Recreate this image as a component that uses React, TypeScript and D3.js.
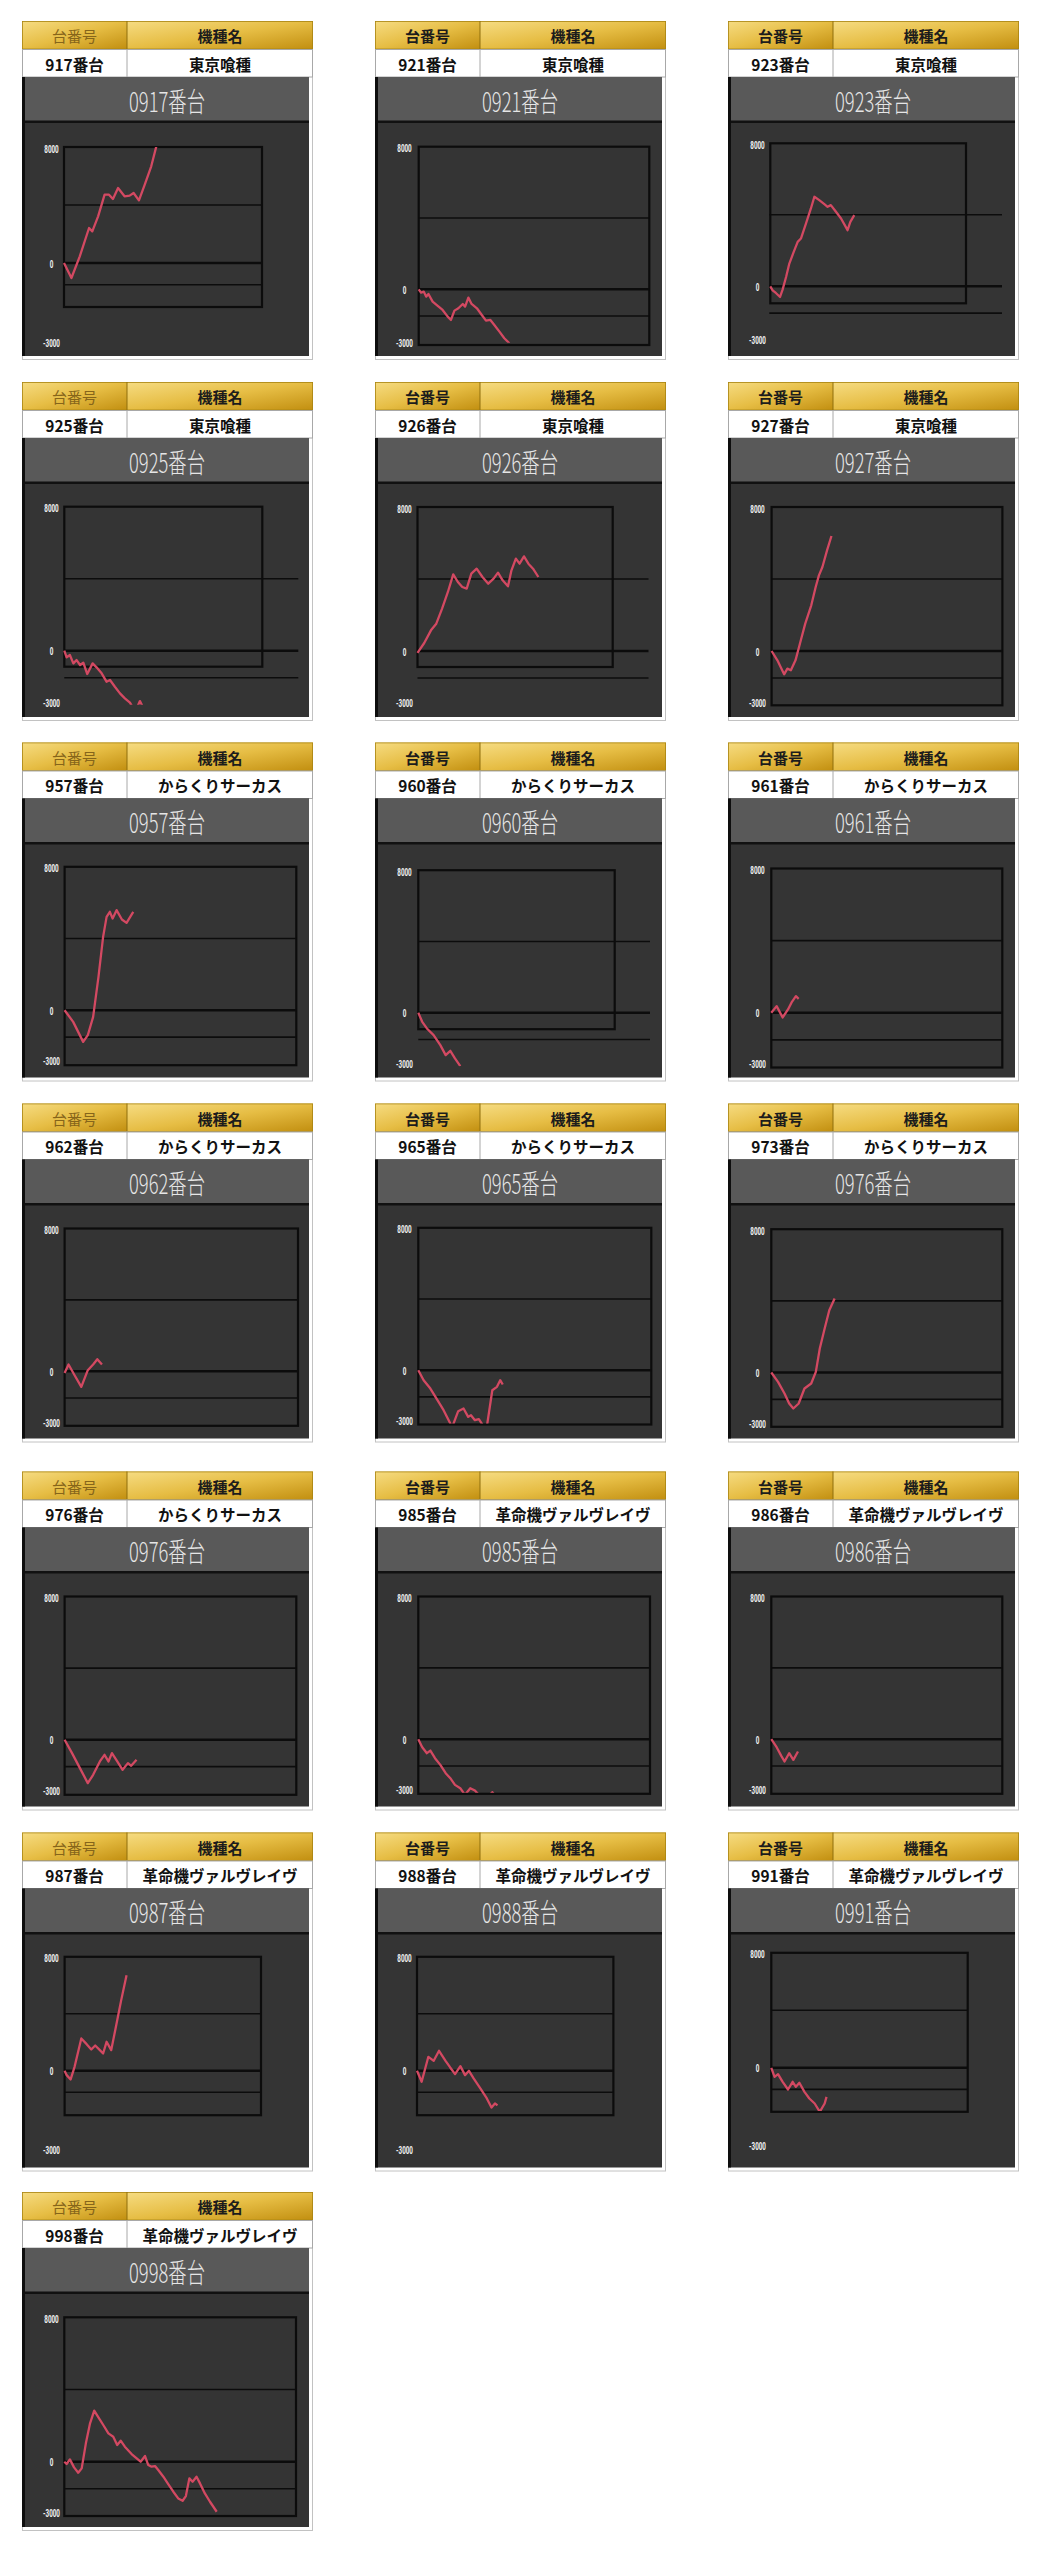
import React from 'react';
import * as d3 from 'd3';

// ---------- data ----------
const machineNos = ['917', '921', '923', '925', '926', '927', '957', '960', '961', '962', '965', '973', '976', '985', '986', '987', '988', '991', '998'];
const modelNames = [
  '東京喰種', '東京喰種', '東京喰種', '東京喰種', '東京喰種', '東京喰種',
  'からくりサーカス', 'からくりサーカス', 'からくりサーカス', 'からくりサーカス', 'からくりサーカス', 'からくりサーカス', 'からくりサーカス',
  '革命機ヴァルヴレイヴ', '革命機ヴァルヴレイヴ', '革命機ヴァルヴレイヴ', '革命機ヴァルヴレイヴ', '革命機ヴァルヴレイヴ', '革命機ヴァルヴレイヴ',
];
const chartTitles = ['0917番台', '0921番台', '0923番台', '0925番台', '0926番台', '0927番台', '0957番台', '0960番台', '0961番台', '0962番台', '0965番台', '0976番台', '0976番台', '0985番台', '0986番台', '0987番台', '0988番台', '0991番台', '0998番台'];
const headerLabels = ['台番号', '機種名'];
const tickLabels = ['8000', '0', '-3000'];
const tickValues = [8000, 0, -3000];
const gridValues = [4000, 0, -1500];

// series: [progress %, difference]
const s917 = [[0, 0], [3.2, -1034], [6.8, 460], [10.8, 2414], [12.2, 2184], [14.7, 3218], [17.5, 4713], [19.4, 4713], [21.1, 4414], [23.3, 5172], [26.1, 4598], [28.3, 4644], [30.0, 4828], [32.3, 4322], [34.8, 5402], [37.6, 6667], [39.8, 8046]];
const s921 = [[0, 0], [1.0, -187], [2.2, -131], [3.2, -411], [4.2, -262], [6.0, -692], [8.2, -935], [10.3, -1159], [12.5, -1533], [13.9, -1720], [15.4, -1196], [17.1, -1065], [19.0, -822], [20.0, -972], [21.4, -467], [22.8, -822], [25.1, -1065], [27.2, -1439], [29.0, -1757], [30.9, -1720], [32.6, -2000], [34.8, -2374], [36.9, -2748], [39.1, -3028]];
const s923 = [[0, 0], [1.0, -224], [2.4, -374], [4.2, -598], [5.3, -187], [6.8, 523], [8.2, 1271], [10.1, 1925], [11.8, 2486], [13.2, 2673], [15.4, 3514], [17.5, 4355], [19.0, 5009], [21.1, 4822], [23.3, 4598], [24.7, 4449], [26.1, 4542], [28.3, 4168], [30.5, 3794], [33.3, 3140], [34.5, 3607], [36.2, 3981]];
const s925 = [[0, 0], [1.0, -370], [2.4, -241], [3.9, -704], [5.3, -519], [6.8, -796], [8.2, -667], [9.9, -1296], [12.2, -704], [13.9, -926], [16.1, -1259], [18.2, -1722], [19.7, -1630], [21.8, -2000], [24.0, -2370], [26.1, -2648], [28.3, -2889], [29.7, -3200], [31.5, -3110], [32.6, -2800], [33.8, -3110]];
const s926 = [[0, -100], [2.9, 444], [5.8, 1148], [8.1, 1519], [10.6, 2352], [13.1, 3278], [15.4, 4259], [17.4, 3833], [19.3, 3556], [21.2, 3463], [23.2, 4296], [25.5, 4574], [28.0, 4111], [30.5, 3741], [32.8, 4019], [34.7, 4352], [36.7, 3926], [39.0, 3593], [40.5, 4481], [42.4, 5130], [44.0, 4852], [45.9, 5259], [47.8, 4852], [49.8, 4574], [52.1, 4111]];
const s927 = [[0, 0], [2.5, -519], [5.4, -1296], [6.8, -981], [8.3, -1074], [10.3, -519], [12.2, 407], [14.5, 1519], [17.1, 2537], [19.0, 3556], [20.4, 4204], [21.9, 4667], [23.9, 5593], [25.8, 6389]];
const s957 = [[0, 0], [3.7, -651], [8.0, -1767], [10.0, -1395], [12.3, -372], [14.6, 1860], [16.6, 4093], [18.1, 5209], [19.5, 5488], [20.7, 5116], [22.4, 5581], [24.7, 5060], [26.7, 4874], [29.6, 5488]];
const s960 = [[0, 0], [1.7, -505], [3.7, -879], [6.6, -1252], [9.5, -1813], [11.8, -2374], [13.8, -2131], [15.8, -2561], [18.1, -2991]];
const s961 = [[0, 0], [2.3, 370], [4.9, -259], [7.2, 185], [8.9, 610], [10.6, 924], [11.8, 776]];
const s962 = [[0, -100], [1.7, 374], [4.3, -224], [7.2, -879], [10.0, 56], [12.3, 374], [14.1, 673], [16.1, 374]];
const s965 = [[0, 0], [2.3, -562], [5.2, -1030], [8.0, -1629], [10.9, -2247], [13.8, -2996], [14.6, -3200], [17.2, -2303], [19.5, -2154], [21.5, -2622], [22.7, -2528], [24.4, -2809], [26.1, -2753], [27.8, -3090], [29.6, -3127], [31.9, -1124], [33.9, -936], [35.3, -562], [36.4, -805]];
const s973 = [[0, 0], [2.9, -521], [5.7, -1172], [7.7, -1730], [9.5, -2009], [11.8, -1730], [14.3, -893], [17.2, -614], [19.2, 37], [20.9, 1340], [23.0, 2456], [25.0, 3479], [27.3, 4130]];
const s976 = [[0, 0], [3.2, -744], [6.6, -1581], [10.0, -2419], [12.3, -1953], [15.2, -1209], [17.2, -837], [18.9, -1209], [20.4, -744], [22.7, -1209], [25.0, -1674], [27.3, -1302], [28.7, -1451], [31.0, -1116]];
const s985 = [[0, 0], [1.7, -449], [3.7, -785], [5.2, -636], [7.2, -1065], [9.5, -1439], [11.8, -1907], [13.8, -2187], [15.8, -2561], [18.1, -2748], [20.1, -3121], [22.4, -2748], [24.4, -2879], [26.1, -3121], [29.6, -3300], [31.9, -2972], [33.9, -3300]];
const s986 = [[0, 0], [2.3, -449], [4.3, -935], [5.7, -1252], [7.7, -785], [9.5, -1159], [11.5, -692]];
const s987 = [[0, 0], [0.9, -304], [2.6, -608], [4.3, 281], [7.2, 2269], [9.5, 1871], [11.5, 1497], [13.2, 1778], [15.2, 1450], [16.6, 1216], [18.1, 2035], [20.1, 1450], [22.4, 3322], [24.4, 4959], [26.7, 6713]];
const s988 = [[0, 0], [2.0, -772], [4.9, 982], [7.2, 702], [9.5, 1404], [12.3, 702], [14.3, 234], [16.4, -234], [18.7, 327], [20.7, -304], [22.4, 0], [24.4, -538], [27.3, -1240], [30.1, -1942], [32.1, -2573], [33.6, -2292], [34.7, -2433]];
const s991 = [[0, 0], [1.4, -626], [2.9, -441], [4.9, -974], [7.2, -1508], [9.2, -974], [10.6, -1323], [12.1, -1044], [14.3, -1671], [16.4, -2135], [18.7, -2483], [20.9, -3063], [23.0, -2483], [23.8, -2019]];
const s998 = [[0, 0], [1.0, -129], [2.4, 129], [4.2, -314], [6.0, -610], [7.5, -370], [9.3, 1017], [11.1, 2126], [12.9, 2828], [14.7, 2458], [16.8, 2033], [19.0, 1571], [21.1, 1386], [22.8, 924], [24.3, 1165], [26.1, 832], [29.0, 425], [31.2, 185], [32.9, 0], [34.8, 314], [36.2, -185], [37.6, -277], [39.1, -240], [40.5, -462], [42.7, -832], [44.8, -1238], [47.0, -1664], [49.1, -2033], [51.0, -2163], [52.4, -1904], [53.9, -924], [55.3, -1109], [57.0, -832], [58.5, -1201], [60.6, -1756], [62.8, -2218], [65.7, -2773]];

const seriesList = [s917, s921, s923, s925, s926, s927, s957, s960, s961, s962, s965, s973, s976, s985, s986, s987, s988, s991, s998];

// ---------- layout (pixel geometry of each screenshot panel) ----------
const layouts = [
  { y8: 126, y0: 242, f: [42, 240, 126, 286], g: [42, 240], lab: 322 },
  { y8: 125.7, y0: 268.3, f: [43.7, 274.3, 125.7, 324], g: [43.7, 274.3], lab: 322 },
  { y8: 122.3, y0: 265.3, f: [42.3, 238, 122.3, 282.3], g: [41.3, 274], lab: 319 },
  { y8: 124.7, y0: 268.7, f: [42.3, 240.3, 124.7, 284.7], g: [42.3, 276.3], lab: 321 },
  { y8: 125, y0: 269, f: [42.5, 237.7, 125, 285], g: [42.5, 273.5], lab: 321 },
  { y8: 125, y0: 269, f: [43.6, 274.4, 125, 323.3], g: [43.6, 274.4], lab: 321 },
  { y8: 124.3, y0: 267.7, f: [42.6, 274.3, 124.3, 322.7], g: [42.6, 274.3], lab: 319.3 },
  { y8: 127.7, y0: 270.3, f: [43.3, 239.7, 127.7, 286.7], g: [43.3, 275], lab: 322 },
  { y8: 126, y0: 270.3, f: [43.3, 274.3, 126, 325], g: [43.3, 274.3], lab: 322 },
  { y8: 125, y0: 267.7, f: [42.6, 276, 125, 322.3], g: [42.6, 276], lab: 320 },
  { y8: 124.3, y0: 266.7, f: [43.3, 276.3, 124.3, 321], g: [43.3, 276.3], lab: 318.3 },
  { y8: 125.7, y0: 269, f: [43.3, 274.3, 125.7, 323.3], g: [43.3, 274.3], lab: 321 },
  { y8: 125, y0: 268.3, f: [42.6, 274.3, 125, 323.3], g: [42.6, 274.3], lab: 320 },
  { y8: 125, y0: 267.7, f: [43.3, 275, 125, 322.3], g: [43.3, 275], lab: 319.3 },
  { y8: 125, y0: 267.7, f: [43.3, 274.3, 125, 322.3], g: [43.3, 274.3], lab: 319.3 },
  { y8: 124.3, y0: 238.3, f: [42.6, 239, 124.3, 282.7], g: [42.6, 239], lab: 317.7 },
  { y8: 124.3, y0: 238.3, f: [42, 238.4, 124.3, 282.7], g: [42, 238.4], lab: 317.7 },
  { y8: 120.3, y0: 235.3, f: [43.3, 239.7, 120.3, 279.3], g: [43.3, 239.7], lab: 314.3 },
  { y8: 125.3, y0: 269.7, f: [42.3, 274, 125.3, 324], g: [42.3, 274], lab: 321.3 },
];
const colX = [22, 375, 728];
const rowY = [21, 382, 742.5, 1103.5, 1471.5, 1832.5, 2192];
const PW = 291;
const DIV = 105;
const XSPAN = 232;

const JP = '"Noto Sans CJK JP", "Noto Sans", sans-serif';

function Panel({ i }: { i: number }) {
  const L = layouts[i];
  const px = colX[i % 3];
  const py = rowY[Math.floor(i / 3)];
  const y = d3.scaleLinear().domain([0, 8000]).range([L.y0, L.y8]);
  const x = d3.scaleLinear().domain([0, 100]).range([L.f[0], L.f[0] + XSPAN]);
  const line = d3.line<number[]>().x((d) => x(d[0])).y((d) => y(d[1]));
  const thinHead = i % 3 === 0;
  const labelYs = [L.y8 + 2, L.y0 + 1, L.lab];
  const clipId = `clip-${i}`;
  return (
    <g transform={`translate(${px},${py})`}>
      <defs>
        <clipPath id={clipId}>
          <rect x={L.f[0] - 2} y={y(8000)} width={XSPAN + 10} height={y(-3000) - y(8000)} />
        </clipPath>
      </defs>
      {/* outer border */}
      <rect x={0.5} y={28.5} width={PW - 1} height={310} fill="#fff" stroke="#c2c2c2" strokeWidth={1} />
      {/* header */}
      <rect x={0} y={0} width={DIV} height={28} fill="url(#goldGrad)" />
      <rect x={DIV} y={0} width={PW - DIV} height={28} fill="url(#goldGrad)" />
      <rect x={0.4} y={0.4} width={PW - 0.8} height={27.6} fill="none" stroke="#a88412" strokeWidth={0.8} />
      <line x1={DIV} x2={DIV} y1={0} y2={28} stroke="#8f6e0c" strokeWidth={1} />
      <text x={DIV / 2} y={14.5} textAnchor="middle" dominantBaseline="central" fontFamily={JP} fontSize={15}
        fontWeight={thinHead ? 400 : 700} fill={thinHead ? '#86651a' : '#1c1c1c'}>{headerLabels[0]}</text>
      <text x={(DIV + PW) / 2} y={14.5} textAnchor="middle" dominantBaseline="central" fontFamily={JP} fontSize={15}
        fontWeight={700} fill="#1c1c1c">{headerLabels[1]}</text>
      {/* name row */}
      <rect x={0.5} y={28.5} width={PW - 1} height={27.5} fill="#fff" stroke="#a8a8a8" strokeWidth={1} />
      <line x1={DIV} x2={DIV} y1={28} y2={56} stroke="#a8a8a8" strokeWidth={1} />
      <text x={DIV / 2} y={42.5} textAnchor="middle" dominantBaseline="central" fontFamily={JP} fontSize={15.5}
        fontWeight={700} fill="#111">{machineNos[i] + '番台'}</text>
      <text x={(DIV + PW) / 2} y={42.5} textAnchor="middle" dominantBaseline="central" fontFamily={JP} fontSize={15.5}
        fontWeight={700} fill="#111">{modelNames[i]}</text>
      {/* dark chart area */}
      <rect x={0} y={56} width={287} height={279} fill="#343434" />
      <rect x={3} y={56} width={284} height={44} fill="#595959" />
      <rect x={3} y={99.5} width={284} height={2.5} fill="#111" />
      <rect x={0} y={56} width={3} height={279} fill="#0e0e0e" />
      <g transform={`translate(145,79) scale(0.68,1)`}>
        <text x={0} y={0} textAnchor="middle" dominantBaseline="central" fontFamily={JP} fontSize={27}
          fontWeight={300} fill="#e6e6e6">{chartTitles[i]}</text>
      </g>
      {/* tick labels */}
      {tickLabels.map((t, k) => (
        <g key={t} transform={`translate(29.5,${labelYs[k]}) scale(0.6,1)`}>
          <text x={0} y={0} textAnchor="middle" dominantBaseline="central" fontFamily="Roboto, sans-serif"
            fontSize={10.5} fontWeight={700} fill="#f2f2f2" data-value={tickValues[k]}>{t}</text>
        </g>
      ))}
      {/* frame */}
      <rect x={L.f[0]} y={L.f[2]} width={L.f[1] - L.f[0]} height={L.f[3] - L.f[2]} fill="none" stroke="#0c0c0c" strokeWidth={2.2} />
      {/* gridlines */}
      {gridValues.map((v) => (
        <line key={v} x1={L.g[0]} x2={L.g[1]} y1={y(v)} y2={y(v)} stroke="#0c0c0c" strokeWidth={v === 0 ? 2.6 : 1.6} />
      ))}
      {/* series */}
      <path d={line(seriesList[i] as number[][]) || ''} fill="none" stroke="#d34962" strokeWidth={2.3}
        strokeLinejoin="round" clipPath={`url(#${clipId})`} />
    </g>
  );
}

export default function App() {
  return (
    <svg width={1044} height={2560} style={{ position: 'absolute', left: 0, top: 0, background: '#fff' }}>
      <defs>
        <linearGradient id="goldGrad" x1="0" y1="0" x2="1" y2="1">
          <stop offset="0%" stopColor="#f6dc82" />
          <stop offset="50%" stopColor="#e6bd44" />
          <stop offset="100%" stopColor="#c28f10" />
        </linearGradient>
      </defs>
      <rect x={0} y={0} width={1044} height={2560} fill="#fff" />
      {seriesList.map((_, i) => (
        <Panel key={i} i={i} />
      ))}
    </svg>
  );
}
